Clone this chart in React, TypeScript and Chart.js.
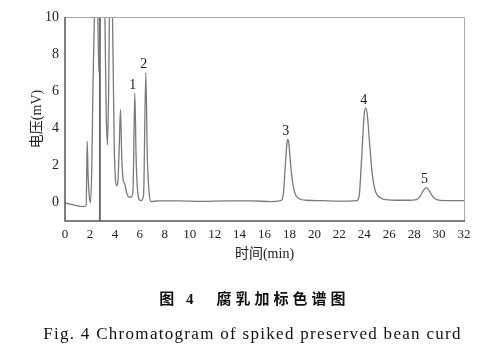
import React, { useEffect, useRef } from "react";
import { Chart, registerables } from "chart.js";

Chart.register(...registerables);

// Retention time (min) and detector voltage (mV)
const timeMin = [
  0, 0.5, 1.0, 1.5, 1.7, 1.78, 1.85, 1.95, 2.05, 2.15, 2.25, 2.35, 2.45, 2.55, 2.62, 2.72,
  2.85, 2.95, 3.1, 3.2, 3.3, 3.4, 3.5, 3.6, 3.75, 3.85, 3.95, 4.05, 4.15, 4.25, 4.35, 4.45,
  4.55, 4.65, 4.8, 4.95, 5.1, 5.3, 5.45, 5.6, 5.7, 5.8, 5.95, 6.1, 6.3, 6.48, 6.6, 6.75,
  6.9, 7.5, 9, 11, 13, 15, 16.5, 17.3, 17.5, 17.65, 17.8, 17.87, 17.95, 18.1, 18.3, 18.5,
  18.8, 19.3, 20.5, 22, 23.4, 23.6, 23.8, 24.0, 24.13, 24.25, 24.45, 24.65, 24.85, 25.1,
  25.5, 26.5, 27.5, 28.2, 28.5, 28.75, 29.0, 29.2, 29.45, 29.8, 30.5, 31.5, 32,
];
const voltageMv = [
  -0.02, -0.1, -0.18, -0.22, -0.15, 3.3, 1.5, 0.3, 0.0, 2.0, 6.5, 9.8, 12, 12, 10.5, 7.0,
  10.5, 12, 12, 10, 5, 3.1, 6, 12, 12, 8, 3, 1.2, 0.9, 1.2, 3.0, 5.0,
  2.5, 1.3, 1.0, 0.5, 0.3, 0.28, 0.6, 5.9, 2.5, 0.8, 0.15, 0.1, 0.4, 7.0, 2.5, 0.5,
  0.05, 0.08, 0.08, 0.06, 0.08, 0.08, 0.05, 0.1, 0.4, 1.8, 3.2, 3.4, 3.2, 2.0, 0.9, 0.4,
  0.2, 0.12, 0.1, 0.07, 0.1, 0.4, 2.5, 4.8, 5.1, 4.7, 3.0, 1.5, 0.7, 0.35,
  0.18, 0.12, 0.12, 0.15, 0.35, 0.65, 0.8, 0.65, 0.35, 0.15, 0.1, 0.1, 0.1,
];

// Injection / solvent marker line
const markerTime = 2.8;

// Numbered peaks
const peakNames = ["1", "2", "3", "4", "5"];
const peakTimes = [5.6, 6.48, 17.87, 24.13, 29.0];
const peakHeights = [5.9, 7.0, 3.4, 5.1, 0.8];

const xTicks = [0, 2, 4, 6, 8, 10, 12, 14, 16, 18, 20, 22, 24, 26, 28, 30, 32];
const yTicks = [0, 2, 4, 6, 8, 10];

const xTitle = "时间(min)";
const yTitle = "电压(mV)";
const captionCn = "图 4　腐乳加标色谱图";
const captionEn = "Fig. 4 Chromatogram of spiked preserved bean curd";

const SERIF = '"Liberation Serif", "Noto Sans CJK SC", serif';

const framePlugin = {
  id: "frame",
  afterDatasetsDraw(chart: any) {
    const { ctx, chartArea } = chart;
    const { left, right, top, bottom } = chartArea;
    ctx.save();
    ctx.lineWidth = 1;
    ctx.strokeStyle = "#a8a8a8";
    ctx.beginPath();
    ctx.moveTo(left, top + 0.5);
    ctx.lineTo(right + 0.5, top + 0.5);
    ctx.lineTo(right + 0.5, bottom);
    ctx.stroke();
    ctx.strokeStyle = "#555555";
    ctx.lineWidth = 1.5;
    ctx.beginPath();
    ctx.moveTo(left, top);
    ctx.lineTo(left, bottom);
    ctx.lineTo(right + 1, bottom);
    ctx.stroke();
    ctx.restore();
  },
};

const peakLabelPlugin = {
  id: "peakLabels",
  afterDatasetsDraw(chart: any) {
    const { ctx, scales } = chart;
    ctx.save();
    ctx.font = "14px " + SERIF;
    ctx.fillStyle = "#1a1a1a";
    ctx.textAlign = "center";
    ctx.textBaseline = "middle";
    peakNames.forEach((name, i) => {
      const px = scales.x.getPixelForValue(peakTimes[i]);
      const py = scales.y.getPixelForValue(peakHeights[i]);
      ctx.fillText(name, px - 2, py - 8);
    });
    ctx.restore();
  },
};

export default function App() {
  const ref = useRef<HTMLCanvasElement | null>(null);

  useEffect(() => {
    if (!ref.current) return;
    const points = timeMin.map((t, i) => ({ x: t, y: voltageMv[i] }));
    const chart = new Chart(ref.current, {
      type: "line",
      data: {
        datasets: [
          {
            data: points,
            borderColor: "#7a7a7a",
            borderWidth: 1.3,
            pointRadius: 0,
            cubicInterpolationMode: "monotone",
            clip: 0,
          } as any,
          {
            data: [
              { x: markerTime, y: -1 },
              { x: markerTime, y: 10 },
            ],
            borderColor: "#444444",
            borderWidth: 1.5,
            pointRadius: 0,
            clip: 0,
          } as any,
        ],
      },
      options: {
        animation: false,
        responsive: false,
        maintainAspectRatio: false,
        layout: { padding: { left: 0, right: 33, top: 17, bottom: 87 } },
        plugins: {
          legend: { display: false },
          tooltip: { enabled: false },
        },
        scales: {
          x: {
            type: "linear",
            min: 0,
            max: 32,
            afterBuildTicks: (scale: any) => {
              scale.ticks = xTicks.map((v) => ({ value: v }));
            },
            afterFit: (scale: any) => {
              scale.height = 45;
            },
            grid: { display: false, drawTicks: false },
            border: { display: false },
            ticks: {
              padding: 6,
              color: "#222",
              font: { family: SERIF, size: 13 },
              maxRotation: 0,
              autoSkip: false,
            },
            title: {
              display: true,
              text: xTitle,
              color: "#222",
              font: { family: SERIF, size: 14 },
              padding: { top: 0, bottom: 3 },
            },
          },
          y: {
            type: "linear",
            min: -1,
            max: 10,
            afterBuildTicks: (scale: any) => {
              scale.ticks = yTicks.map((v) => ({ value: v }));
            },
            afterFit: (scale: any) => {
              scale.width = 65;
            },
            grid: { display: false, drawTicks: false },
            border: { display: false },
            ticks: {
              padding: 6,
              color: "#222",
              font: { family: SERIF, size: 14 },
            },
            title: {
              display: true,
              text: yTitle,
              color: "#222",
              font: { family: SERIF, size: 14 },
              padding: { top: 29, bottom: 0 },
            },
          },
        },
      },
      plugins: [framePlugin, peakLabelPlugin],
    });
    return () => chart.destroy();
  }, []);

  return (
    <div
      style={{
        position: "absolute",
        left: 0,
        top: 0,
        width: 497,
        height: 353,
        background: "#ffffff",
      }}
    >
      <canvas ref={ref} width={497} height={353} style={{ display: "block" }} />
      <div
        style={{
          position: "absolute",
          left: 0,
          width: 497,
          top: 288,
          textAlign: "center",
          fontFamily: SERIF,
          fontWeight: "bold",
          fontSize: 15,
          letterSpacing: 4,
          lineHeight: "22px",
          color: "#111",
          paddingLeft: 12,
          boxSizing: "border-box",
        }}
      >
        {captionCn}
      </div>
      <div
        style={{
          position: "absolute",
          left: 0,
          width: 497,
          top: 323,
          textAlign: "center",
          fontFamily: SERIF,
          fontSize: 17,
          letterSpacing: 1.3,
          lineHeight: "22px",
          color: "#111",
          paddingLeft: 8,
          boxSizing: "border-box",
        }}
      >
        {captionEn}
      </div>
    </div>
  );
}
